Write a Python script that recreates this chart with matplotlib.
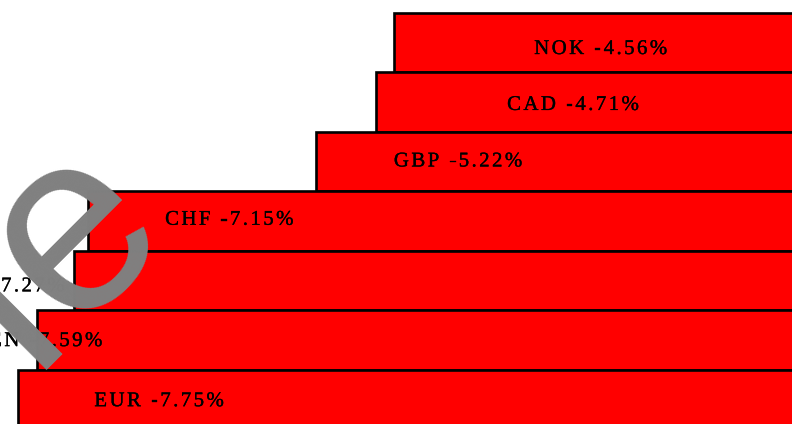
import numpy as np
import matplotlib
matplotlib.use("Agg")
import matplotlib.pyplot as plt
import matplotlib.patheffects as pe
from matplotlib import font_manager
from matplotlib.font_manager import FontProperties
from matplotlib.ft2font import FT2Font
from matplotlib.textpath import TextPath
from matplotlib.transforms import offset_copy

# data
currencies = ["NOK", "CAD", "GBP", "CHF", "AUD", "YEN", "EUR"]
changes = [-4.56, -4.71, -5.22, -7.15, -7.27, -7.59, -7.75]
# where each label starts (x) and sits (baseline y), in data units
label_start = [-3.37, -3.60, -4.56, -6.50, -8.48, -8.14, -7.10]
label_base = [0.19, 1.13, 2.08, 3.06, 4.18, 5.10, 6.11]

DPI = 100
W, H = 792, 424
fig = plt.figure(figsize=(W / DPI, H / DPI), dpi=DPI)
ax = fig.add_axes([0, 0, 1, 1])

rows = list(range(len(currencies)))
ax.barh(rows, changes, height=1.0, color="#ff0000", edgecolor="black", linewidth=1.9)
ax.set_xlim(-7.90, -1.184)
ax.set_ylim(6.41, -0.718)
ax.axis("off")


def advances(family, size_pt):
    f = FT2Font(font_manager.findfont(FontProperties(family=family)))
    f.set_size(size_pt, 72)
    return lambda ch: f.load_char(ord(ch)).linearHoriAdvance / 65536


# letter-spaced serif labels, one glyph at a time
label_family = "Liberation Serif"
label_size = 15.0  # pt
spacing = 1.75     # pt added after each glyph
adv = advances(label_family, label_size)
thicker = [pe.withStroke(linewidth=0.25, foreground="black")]

for cur, val, x0, yb in zip(currencies, changes, label_start, label_base):
    off = 0.0
    for ch in f"{cur} {val:.2f}%":
        if ch != " ":
            tr = offset_copy(ax.transData, fig, x=off, y=0, units="points")
            ax.text(x0, yb, ch, transform=tr, fontsize=label_size,
                    family=label_family, color="black", ha="left", va="baseline",
                    path_effects=thicker)
        off += adv(ch) + spacing

# big rotated "Sample" watermark; only its end is inside the picture.
# the final "e" is centred near (73, 231) px, the start of the word is
# pushed a bit further away so it stays out of view
wm_family = "Liberation Sans"
em_px = 258
wm_adv = advances(wm_family, 1.0)
sans = FontProperties(family=wm_family)
eb = TextPath((0, 0), "e", size=1, prop=sans).get_extents()
ecx, ecy = (eb.x0 + eb.x1) / 2, (eb.y0 + eb.y1) / 2
ang = np.radians(45)
u = np.array([np.cos(ang), np.sin(ang)])
v = np.array([-np.sin(ang), np.cos(ang)])

e_org = np.array([73, H - 231]) - (ecx * u + ecy * v) * em_px
l_org = e_org - u * wm_adv("l") * em_px
head_org = l_org - u * (sum(wm_adv(c) for c in "Samp") + 0.25) * em_px

for word, org in [("Samp", head_org), ("l", l_org), ("e", e_org)]:
    fig.text(org[0] / W, org[1] / H, word, rotation=45, rotation_mode="anchor",
             ha="left", va="baseline", fontsize=em_px * 72 / DPI,
             color="#808080", family=wm_family)

fig.savefig("out.png", dpi=DPI)
